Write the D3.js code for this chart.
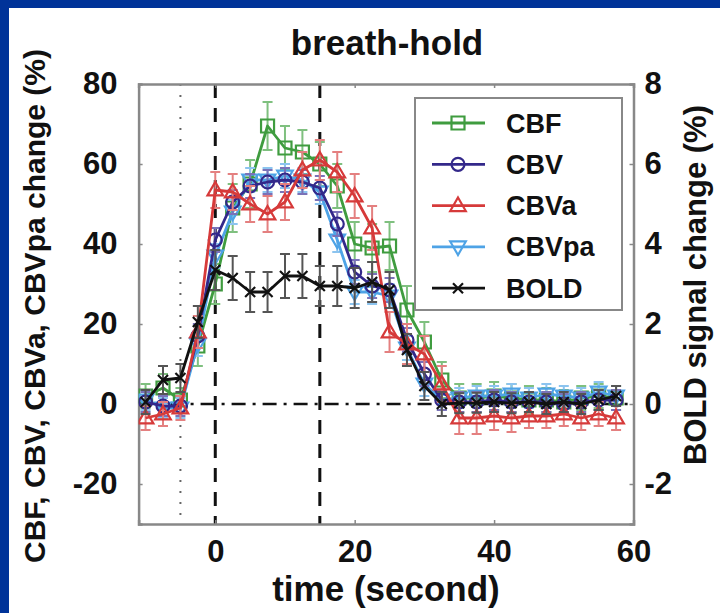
<!DOCTYPE html>
<html><head><meta charset="utf-8">
<script src="https://cdn.jsdelivr.net/npm/d3@7"></script>
<style>
html,body{margin:0;padding:0;background:#003399;}
svg{display:block;}
text{font-family:"Liberation Sans",Arial,Helvetica,sans-serif;font-weight:bold;fill:#111;}
</style></head>
<body>
<svg id="chart" width="720" height="613"></svg>
<script>
// ---- data ----
const times = [-10,-7.5,-5,-2.5,0,2.5,5,7.5,10,12.5,15,17.5,20,22.5,25,27.5,30,32.5,35,37.5,40,42.5,45,47.5,50,52.5,55,57.5];
const cbf   = [2,4,1,14.5,30,49,55,69.5,64,63,60,54.5,40,39,39.5,23.5,15.5,6,1.5,1.5,2,1.5,1,1,0.5,1.5,2,1.5];
const cbfErr= [3,3.5,3,5,5,6,6,6,5.5,5.5,5.5,5.5,5.5,6,6,6,5,4.5,3.5,3.5,3.5,3.5,3.5,3,3,3,3,3];
const cbv   = [0.5,-0.5,-0.5,17,41,50.5,54.5,55.5,56,55.5,54,45,33,29.5,28.5,16,7.5,1,0.5,0.5,1,0.5,0.5,0.5,0,0.5,1,1];
const cbvErr= [2.5,2.5,2.5,3,3,3,3,3,3,3,3,3,3,3,3,3,3,2.5,2.5,2.5,2.5,2.5,2.5,2.5,2.5,2.5,2.5,2.5];
const cbva  = [-3.5,-2.5,-1,18,53.5,53,50,47.5,50.5,58.5,61,58,52,44,18,15,12.5,5,-3.5,-3.5,-3,-3.5,-3,-3,-2.5,-3.5,-2.5,-3.5];
const cbvaErr=[3,3,3,4,4.5,4.5,4.5,4.5,4.5,4.5,5,5,5.5,5.5,5,5,4.5,4.5,4,4,3.5,3.5,3,3,3,3,3,3];
const cbvpa = [1,-1,-1,15,37,48,56,56,57,56,53,41,28,28,27,14,5,1,1.5,2,2,2.5,1.5,2.5,2,1.5,3,2];
const cbvpaErr=[2.5,2.5,2.5,3,3,3,3,3,3,3,3,3,3,3,3,3,3,2.5,2.5,2.5,2.5,2.5,2.5,2.5,2.5,2.5,2.5,2.5];
const bold  = [0.05,0.6,0.65,2.05,3.35,3.15,2.8,2.8,3.2,3.2,2.95,2.95,2.9,3.05,2.85,1.35,0.45,0,0.02,0.03,0.05,0.02,0.05,0,0.05,0,0.1,0.2];
const boldErr=[0.3,0.35,0.35,0.4,0.5,0.55,0.5,0.5,0.55,0.55,0.5,0.5,0.5,0.5,0.45,0.4,0.35,0.3,0.25,0.25,0.25,0.25,0.25,0.25,0.25,0.25,0.25,0.25];
const xTicks = [0,20,40,60];
const yTicksLeft = [-20,0,20,40,60,80];
const yTicksRight = [-2,0,2,4,6,8];
const seriesNames = ["CBF","CBV","CBVa","CBVpa","BOLD"];
const seriesColors = ["#3f9c3f","#33288a","#d63a3a","#4ea3e6","#111111"];
const barColors = ["#7fc07f","#7a72b8","#e48080","#8cc4ef","#555555"];
const markers = ["square","circle","triangle","triangleDown","cross"];

// ---- layout ----
const svg = d3.select("#chart");
svg.append("rect").attr("x",9).attr("y",8).attr("width",711).attr("height",605).attr("fill","#fff");

const x = d3.scaleLinear().domain([-11,60]).range([138.6,633.5]);
const y = d3.scaleLinear().domain([-30,80]).range([524,84]);
const yR = d3.scaleLinear().domain([-3,8]).range([524,84]);

const g = svg.append("g");
g.append("defs").append("clipPath").attr("id","clip").append("rect")
  .attr("x",x(-11)).attr("y",y(80)).attr("width",x(60)-x(-11)).attr("height",y(-30)-y(80));

// reference lines
g.append("line").attr("x1",x(-11)).attr("x2",x(60)).attr("y1",y(0)).attr("y2",y(0))
  .attr("stroke","#111").attr("stroke-width",2.5).attr("stroke-dasharray","14,7,3,7");
[0,15].forEach(t=>{
  g.append("line").attr("x1",x(t)).attr("x2",x(t)).attr("y1",y(80)).attr("y2",y(-30))
   .attr("stroke","#111").attr("stroke-width",3).attr("stroke-dasharray","14,10");
});
g.append("line").attr("x1",x(-5)).attr("x2",x(-5)).attr("y1",y(80)).attr("y2",y(-30))
  .attr("stroke","#666").attr("stroke-width",2).attr("stroke-dasharray","2,9");

// axes (Matlab-like box with inward ticks)
const axColor = "#888";
const fmt = d => String(d);
const axLeft = g.append("g").attr("transform",`translate(${x(-11)},0)`)
  .call(d3.axisLeft(y).tickValues(yTicksLeft).tickFormat(fmt).tickSize(-4).tickPadding(21));
const axRight = g.append("g").attr("transform",`translate(${x(60)},0)`)
  .call(d3.axisRight(yR).tickValues(yTicksRight).tickFormat(fmt).tickSize(-4).tickPadding(11));
const axBottom = g.append("g").attr("transform",`translate(0,${y(-30)})`)
  .call(d3.axisBottom(x).tickValues(xTicks).tickFormat(fmt).tickSize(-4).tickPadding(16));
const axTop = g.append("g").attr("transform",`translate(0,${y(80)})`)
  .call(d3.axisTop(x).tickValues(xTicks).tickSize(-4).tickFormat(""));
[axLeft,axRight,axBottom,axTop].forEach(a=>{
  a.select(".domain").attr("stroke",axColor).attr("stroke-width",2.5);
  a.selectAll(".tick line").attr("stroke",axColor).attr("stroke-width",1.5);
  a.selectAll(".tick text").attr("font-size",31).attr("font-family","Liberation Sans, Arial, sans-serif").attr("font-weight","bold").attr("fill","#111");
});

// marker symbols
function markerPath(type, size){
  const s=size;
  switch(type){
    case "square": return `M${-s/2},${-s/2}h${s}v${s}h${-s}Z`;
    case "circle": return d3.symbol(d3.symbolCircle, Math.PI*(s/2)*(s/2))();
    case "triangle": return `M0,${-s*0.62}L${s*0.6},${s*0.42}L${-s*0.6},${s*0.42}Z`;
    case "triangleDown": return `M0,${s*0.62}L${s*0.6},${-s*0.42}L${-s*0.6},${-s*0.42}Z`;
    case "cross": return `M${-s/2.6},${-s/2.6}L${s/2.6},${s/2.6}M${-s/2.6},${s/2.6}L${s/2.6},${-s/2.6}`;
  }
}

const allSeries = [
  {i:0, vals:cbf, err:cbfErr, scale:1},
  {i:3, vals:cbvpa, err:cbvpaErr, scale:1},
  {i:1, vals:cbv, err:cbvErr, scale:1},
  {i:2, vals:cbva, err:cbvaErr, scale:1},
  {i:4, vals:bold, err:boldErr, scale:10}
];
const plot = g.append("g").attr("clip-path","url(#clip)");
const line = d3.line().x(d=>x(d.t)).y(d=>y(d.v));
allSeries.forEach(s=>{
  const data = times.map((t,k)=>({t, v:s.vals[k]*s.scale, e:s.err[k]*s.scale}));
  const sg = plot.append("g");
  const eb = sg.selectAll(".eb").data(data).join("g");
  eb.append("line").attr("x1",d=>x(d.t)).attr("x2",d=>x(d.t)).attr("y1",d=>y(d.v-d.e)).attr("y2",d=>y(d.v+d.e))
    .attr("stroke",barColors[s.i]).attr("stroke-width",2);
  [1,-1].forEach(sg2=>{
    eb.append("line").attr("x1",d=>x(d.t)-5).attr("x2",d=>x(d.t)+5)
      .attr("y1",d=>y(d.v+sg2*d.e)).attr("y2",d=>y(d.v+sg2*d.e))
      .attr("stroke",barColors[s.i]).attr("stroke-width",2);
  });
  sg.append("path").datum(data).attr("d",line).attr("fill","none")
    .attr("stroke",seriesColors[s.i]).attr("stroke-width",2.8).attr("stroke-linejoin","round");
  sg.selectAll(".mk").data(data).join("path")
    .attr("transform",d=>`translate(${x(d.t)},${y(d.v)})`)
    .attr("d",markerPath(markers[s.i],13))
    .attr("fill","none").attr("stroke",seriesColors[s.i]).attr("stroke-width",2.2);
});

// legend
const lg = g.append("g");
lg.append("rect").attr("x",415).attr("y",98).attr("width",207).attr("height",212)
  .attr("fill","#fff").attr("stroke","#888").attr("stroke-width",2);
seriesNames.forEach((n,k)=>{
  const ly = 123 + k*41.3;
  lg.append("line").attr("x1",432).attr("x2",485).attr("y1",ly).attr("y2",ly)
    .attr("stroke",seriesColors[k]).attr("stroke-width",2.8);
  lg.append("path").attr("transform",`translate(458,${ly})`).attr("d",markerPath(markers[k],13))
    .attr("fill","none").attr("stroke",seriesColors[k]).attr("stroke-width",2.2);
  lg.append("text").attr("x",506).attr("y",ly+9.5).attr("font-size",27).text(n);
});

// titles
svg.append("text").attr("x",387).attr("y",55).attr("text-anchor","middle").attr("font-size",35).text("breath-hold");
svg.append("text").attr("x",386).attr("y",601).attr("text-anchor","middle").attr("font-size",35).text("time (second)");
svg.append("text").attr("transform","translate(45,306) rotate(-90)").attr("text-anchor","middle").attr("font-size",30)
  .text("CBF, CBV, CBVa, CBVpa change (%)");
svg.append("text").attr("transform","translate(706,285) rotate(-90)").attr("text-anchor","middle").attr("font-size",31)
  .text("BOLD signal change (%)");
</script>
</body></html>
